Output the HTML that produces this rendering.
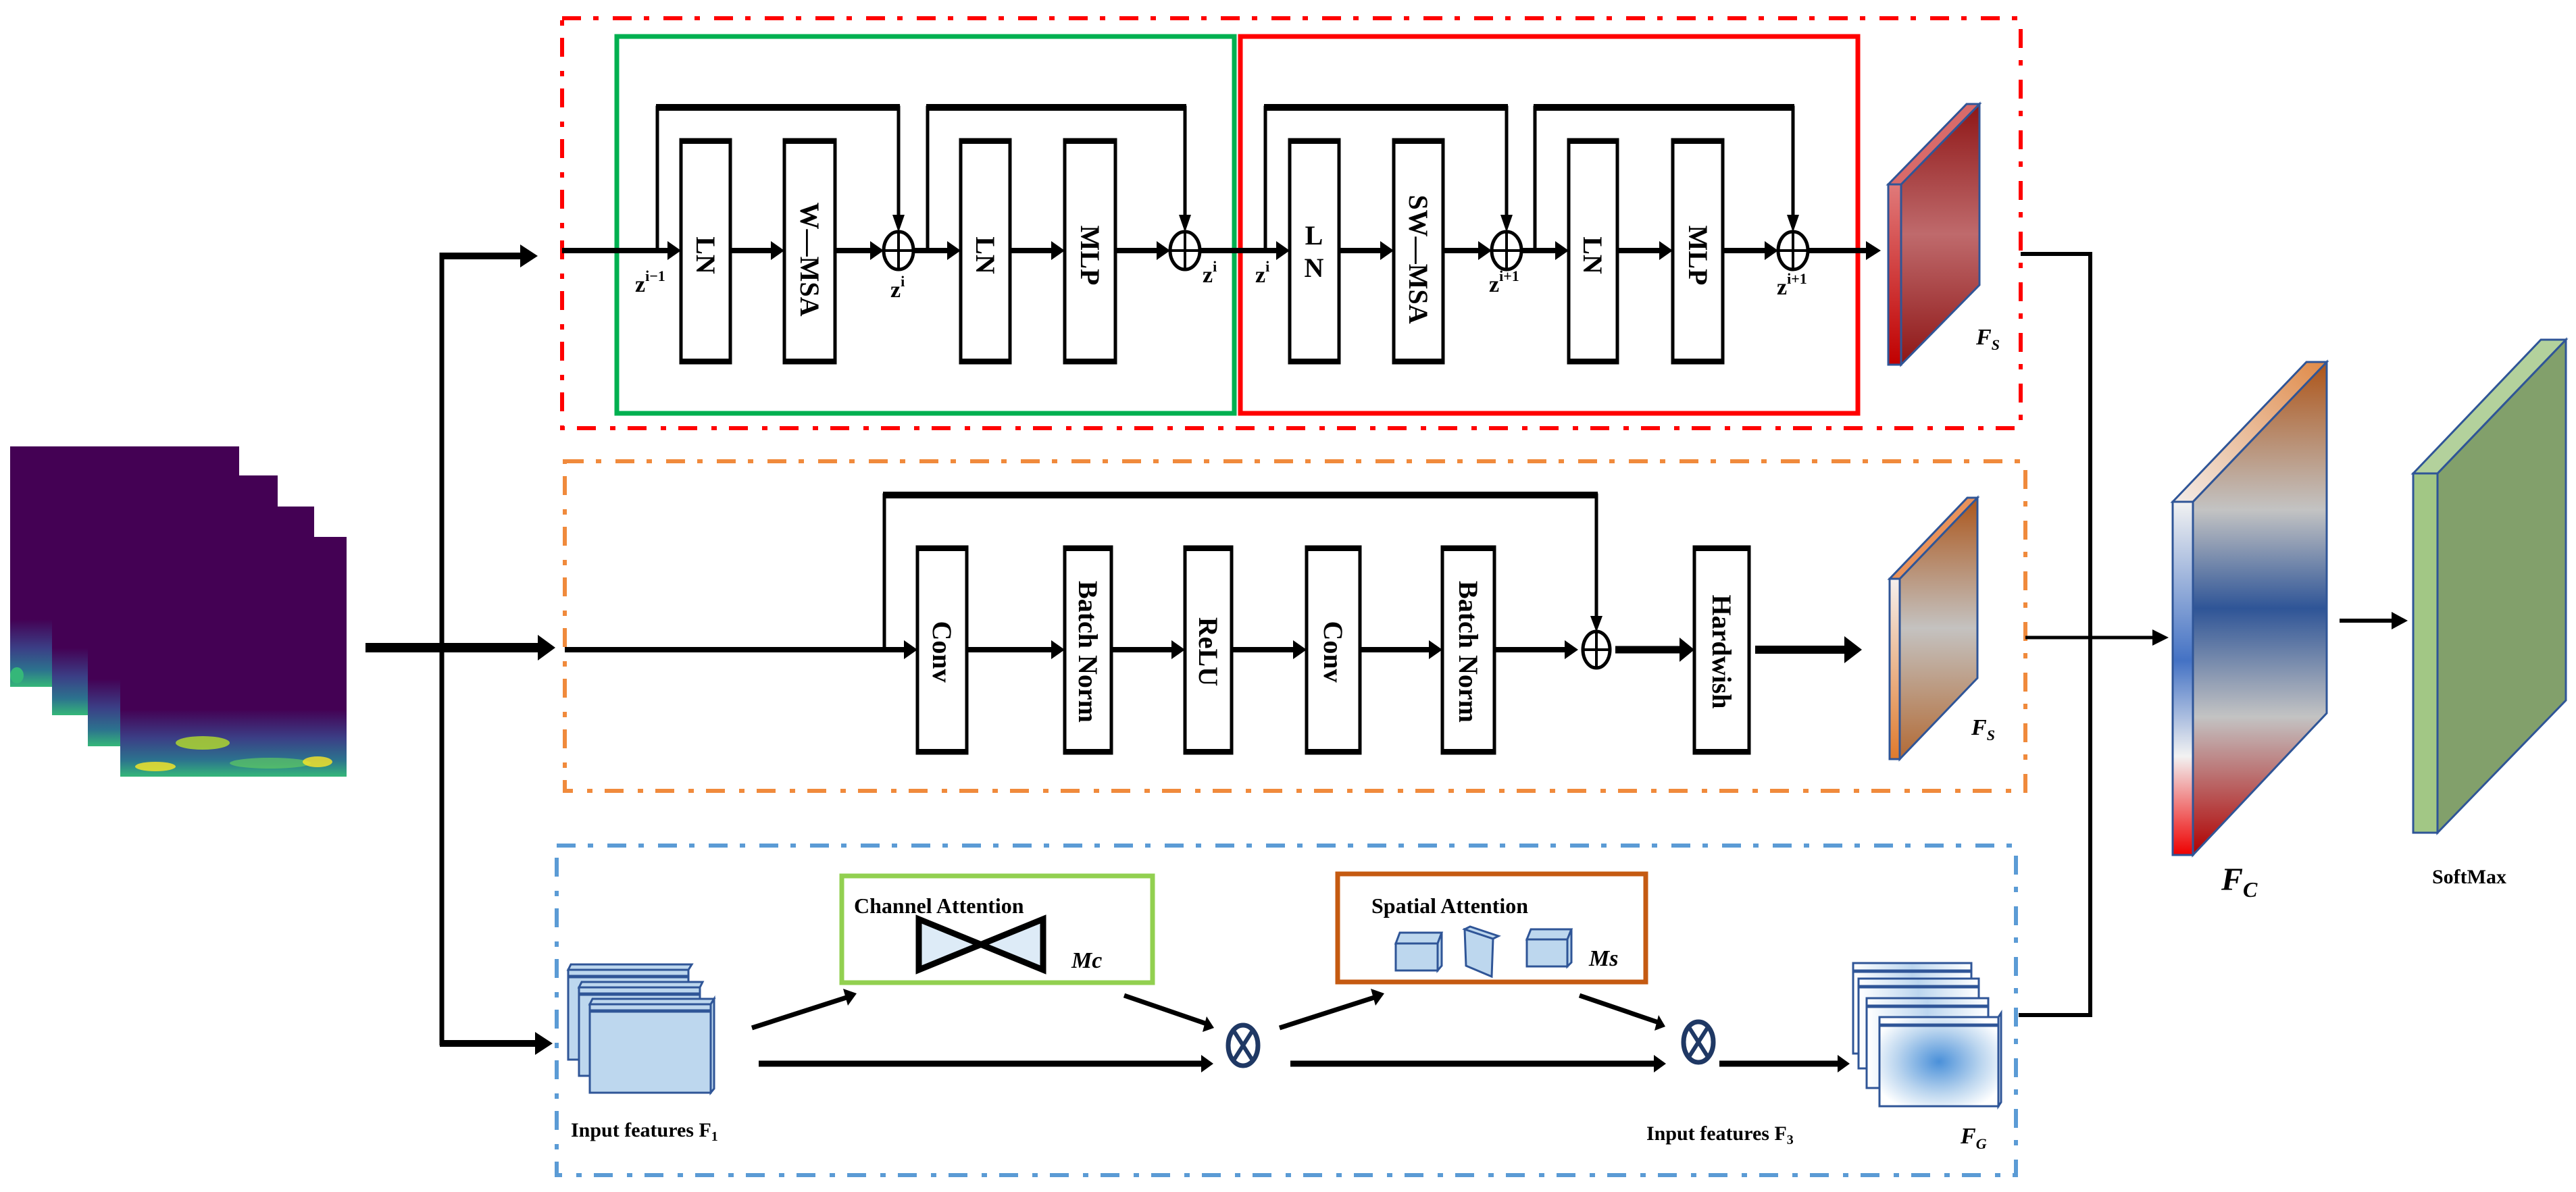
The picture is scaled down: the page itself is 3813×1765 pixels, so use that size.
<!DOCTYPE html>
<html><head><meta charset="utf-8"><style>
html,body{margin:0;padding:0;background:#fff;}
svg{display:block;}
text{font-family:"Liberation Serif",serif;font-weight:bold;}
</style></head><body>
<svg width="3813" height="1765" viewBox="0 0 3813 1765" xmlns="http://www.w3.org/2000/svg">
<defs>
<linearGradient id="spec" x1="0" y1="0" x2="0" y2="1">
<stop offset="0" stop-color="#440154"/><stop offset="0.72" stop-color="#440154"/>
<stop offset="0.84" stop-color="#3b3f86"/><stop offset="0.93" stop-color="#2c728e"/><stop offset="1" stop-color="#35b779"/>
</linearGradient>
<linearGradient id="gRed" x1="0" y1="0" x2="0" y2="1">
<stop offset="0" stop-color="#8e1616"/><stop offset="0.5" stop-color="#bf6a6c"/><stop offset="1" stop-color="#8e1616"/>
</linearGradient>
<linearGradient id="gRedF" x1="0" y1="0" x2="0" y2="1">
<stop offset="0" stop-color="#e07a7a"/><stop offset="1" stop-color="#c00000"/>
</linearGradient>
<linearGradient id="gOr" x1="0" y1="0" x2="0" y2="1">
<stop offset="0" stop-color="#ab561c"/><stop offset="0.5" stop-color="#c4c2c0"/><stop offset="1" stop-color="#b26a35"/>
</linearGradient>
<linearGradient id="gOrF" x1="0" y1="0" x2="0" y2="1">
<stop offset="0" stop-color="#f5f0ee"/><stop offset="1" stop-color="#e07a2c"/>
</linearGradient>
<linearGradient id="gFC" x1="0" y1="0" x2="0" y2="1">
<stop offset="0" stop-color="#ad5418"/><stop offset="0.3" stop-color="#c3c3c3"/><stop offset="0.5" stop-color="#2f5597"/>
<stop offset="0.72" stop-color="#c3c3c3"/><stop offset="1" stop-color="#b00000"/>
</linearGradient>
<linearGradient id="gFCF" x1="0" y1="0" x2="0" y2="1">
<stop offset="0" stop-color="#f2f2f2"/><stop offset="0.45" stop-color="#4472c4"/><stop offset="0.72" stop-color="#f2f2f2"/><stop offset="1" stop-color="#ee0000"/>
</linearGradient>
<linearGradient id="gFCT" x1="1" y1="0" x2="0" y2="1">
<stop offset="0" stop-color="#e08a48"/><stop offset="1" stop-color="#f3ece8"/>
</linearGradient>
<radialGradient id="gFG" cx="0.5" cy="0.5" r="0.6">
<stop offset="0" stop-color="#4a90d9"/><stop offset="0.6" stop-color="#bcd6ef"/><stop offset="1" stop-color="#ffffff"/>
</radialGradient>
<linearGradient id="gFGs" x1="0" y1="0" x2="1" y2="0">
<stop offset="0" stop-color="#ffffff"/><stop offset="0.5" stop-color="#bcd6ef"/><stop offset="1" stop-color="#ffffff"/>
</linearGradient>
</defs>

<!-- Spectrograms -->
<rect x="15" y="661" width="339" height="356" fill="url(#spec)"/>
<rect x="77" y="704" width="334" height="355" fill="url(#spec)"/>
<rect x="130" y="750" width="335" height="355" fill="url(#spec)"/>
<rect x="178" y="795" width="335" height="355" fill="url(#spec)"/>
<ellipse cx="300" cy="1100" rx="40" ry="10" fill="#b5de2b" opacity="0.8"/>
<ellipse cx="400" cy="1130" rx="60" ry="8" fill="#5ec962" opacity="0.7"/>
<ellipse cx="230" cy="1135" rx="30" ry="7" fill="#fde725" opacity="0.8"/>
<ellipse cx="470" cy="1128" rx="22" ry="8" fill="#fde725" opacity="0.8"/>
<ellipse cx="25" cy="1000" rx="10" ry="12" fill="#35b779"/>

<!-- input connectors -->
<line x1="541" y1="959" x2="800" y2="959" stroke="#000" stroke-width="14"/>
<polygon points="796,940 822,959 796,978" fill="#000"/>
<line x1="654" y1="374" x2="654" y2="1548" stroke="#000" stroke-width="7"/>
<line x1="651" y1="379" x2="775" y2="379" stroke="#000" stroke-width="10"/>
<polygon points="770,362 796,379 770,396" fill="#000"/>
<line x1="651" y1="1545" x2="796" y2="1545" stroke="#000" stroke-width="10"/>
<polygon points="792,1528 818,1545 792,1562" fill="#000"/>

<!-- Outer dash-dot boxes -->
<rect x="832" y="27" width="2159" height="607" fill="none" stroke="#ff0000" stroke-width="6" stroke-dasharray="28 18 8 21"/>
<rect x="836" y="683" width="2162" height="488" fill="none" stroke="#f08a3c" stroke-width="6" stroke-dasharray="28 18 8 21"/>
<rect x="824" y="1252" width="2160" height="488" fill="none" stroke="#5b9bd5" stroke-width="6" stroke-dasharray="28 18 8 21"/>

<!-- Green / red blocks -->
<rect x="913" y="54" width="914" height="558" fill="none" stroke="#00b050" stroke-width="7"/>
<rect x="1836" y="54" width="914" height="558" fill="none" stroke="#ff0000" stroke-width="7"/>

<g stroke="#000" fill="#fff" stroke-width="5">
<rect x="1008" y="207" width="73" height="330"/>
<rect x="1161" y="207" width="75" height="330"/>
<rect x="1422" y="207" width="73" height="330"/>
<rect x="1576" y="207" width="75" height="330"/>
<rect x="1909" y="207" width="73" height="330"/>
<rect x="2063" y="207" width="73" height="330"/>
<rect x="2322" y="207" width="72" height="330"/>
<rect x="2476" y="207" width="74" height="330"/>
</g>
<g stroke="#000" stroke-width="8">
<line x1="1006" y1="209" x2="1083" y2="209"/><line x1="1006" y1="535" x2="1083" y2="535"/>
<line x1="1159" y1="209" x2="1238" y2="209"/><line x1="1159" y1="535" x2="1238" y2="535"/>
<line x1="1420" y1="209" x2="1497" y2="209"/><line x1="1420" y1="535" x2="1497" y2="535"/>
<line x1="1574" y1="209" x2="1653" y2="209"/><line x1="1574" y1="535" x2="1653" y2="535"/>
<line x1="1907" y1="209" x2="1984" y2="209"/><line x1="1907" y1="535" x2="1984" y2="535"/>
<line x1="2061" y1="209" x2="2138" y2="209"/><line x1="2061" y1="535" x2="2138" y2="535"/>
<line x1="2320" y1="209" x2="2396" y2="209"/><line x1="2320" y1="535" x2="2396" y2="535"/>
<line x1="2474" y1="209" x2="2552" y2="209"/><line x1="2474" y1="535" x2="2552" y2="535"/>
</g>
<!-- top row labels -->
<g font-size="40" text-anchor="middle">
<text transform="translate(1031,378) rotate(90)">LN</text>
<text transform="translate(1185,384) rotate(90)">W—MSA</text>
<text transform="translate(1445,378) rotate(90)">LN</text>
<text transform="translate(1600,378) rotate(90)">MLP</text>
<text x="1945" y="362" font-weight="normal">L</text>
<text x="1945" y="410" font-weight="normal">N</text>
<text transform="translate(2086,384) rotate(90)">SW—MSA</text>
<text transform="translate(2344,378) rotate(90)">LN</text>
<text transform="translate(2500,378) rotate(90)">MLP</text>
</g>

<!-- top row lines -->
<g stroke="#000" stroke-width="8">
<line x1="832" y1="371" x2="990" y2="371"/>
<line x1="1081" y1="371" x2="1143" y2="371"/>
<line x1="1236" y1="371" x2="1290" y2="371"/>
<line x1="1353" y1="371" x2="1404" y2="371"/>
<line x1="1495" y1="371" x2="1558" y2="371"/>
<line x1="1651" y1="371" x2="1714" y2="371"/>
<line x1="1777" y1="371" x2="1891" y2="371"/>
<line x1="1982" y1="371" x2="2045" y2="371"/>
<line x1="2136" y1="371" x2="2190" y2="371"/>
<line x1="2253" y1="371" x2="2304" y2="371"/>
<line x1="2394" y1="371" x2="2458" y2="371"/>
<line x1="2550" y1="371" x2="2614" y2="371"/>
<line x1="2677" y1="371" x2="2765" y2="371"/>
</g>
<g fill="#000">
<polygon points="988,357 1008,371 988,385"/>
<polygon points="1141,357 1161,371 1141,385"/>
<polygon points="1288,357 1308,371 1288,385"/>
<polygon points="1402,357 1422,371 1402,385"/>
<polygon points="1556,357 1576,371 1556,385"/>
<polygon points="1712,357 1732,371 1712,385"/>
<polygon points="1889,357 1909,371 1889,385"/>
<polygon points="2043,357 2063,371 2043,385"/>
<polygon points="2188,357 2208,371 2188,385"/>
<polygon points="2302,357 2322,371 2302,385"/>
<polygon points="2456,357 2476,371 2456,385"/>
<polygon points="2612,357 2632,371 2612,385"/>
<polygon points="2762,357 2784,371 2762,385"/>
</g>
<g fill="none" stroke="#000" stroke-width="5">
<path d="M973,371 V159 H1330 V322"/>
<path d="M1373,371 V159 H1754 V322"/>
<path d="M1873,371 V159 H2230 V322"/>
<path d="M2272,371 V159 H2654 V322"/>
</g>
<g stroke="#000" stroke-width="10"><line x1="971" y1="159" x2="1332" y2="159"/><line x1="1371" y1="159" x2="1756" y2="159"/><line x1="1871" y1="159" x2="2232" y2="159"/><line x1="2270" y1="159" x2="2656" y2="159"/></g>
<g fill="#000">
<polygon points="1321,318 1330,344 1339,318"/>
<polygon points="1745,318 1754,344 1763,318"/>
<polygon points="2221,318 2230,344 2239,318"/>
<polygon points="2645,318 2654,344 2663,318"/>
</g>
<g fill="#fff" stroke="#000" stroke-width="5">
<ellipse cx="1330" cy="371" rx="22" ry="28"/><ellipse cx="1754" cy="371" rx="22" ry="28"/>
<ellipse cx="2230" cy="371" rx="22" ry="28"/><ellipse cx="2654" cy="371" rx="22" ry="28"/>
</g>
<g stroke="#000" stroke-width="4">
<line x1="1330" y1="343" x2="1330" y2="399"/><line x1="1308" y1="371" x2="1352" y2="371"/>
<line x1="1754" y1="343" x2="1754" y2="399"/><line x1="1732" y1="371" x2="1776" y2="371"/>
<line x1="2230" y1="343" x2="2230" y2="399"/><line x1="2208" y1="371" x2="2252" y2="371"/>
<line x1="2654" y1="343" x2="2654" y2="399"/><line x1="2632" y1="371" x2="2676" y2="371"/>
</g>
<g font-size="34" font-weight="normal">
<text x="940" y="432">z<tspan font-size="22" dy="-16">i−1</tspan></text>
<text x="1318" y="440">z<tspan font-size="22" dy="-16">i</tspan></text>
<text x="1780" y="418">z<tspan font-size="22" dy="-16">i</tspan></text>
<text x="1858" y="418">z<tspan font-size="22" dy="-16">i</tspan></text>
<text x="2204" y="432">z<tspan font-size="22" dy="-16">i+1</tspan></text>
<text x="2630" y="436">z<tspan font-size="22" dy="-16">i+1</tspan></text>
</g>

<!-- FS red slab -->
<polygon points="2814,273 2930,154 2930,422 2814,540" fill="url(#gRed)" stroke="#2f5597" stroke-width="3"/>
<polygon points="2795,273 2911,154 2930,154 2814,273" fill="#d86a6a" stroke="#2f5597" stroke-width="3"/>
<rect x="2795" y="273" width="19" height="267" fill="url(#gRedF)" stroke="#2f5597" stroke-width="3"/>
<text x="2925" y="510" font-size="34" font-style="italic" font-weight="normal">F<tspan font-size="22" dy="8">S</tspan></text>

<!-- Orange row -->
<g stroke="#000" fill="#fff" stroke-width="5">
<rect x="1358" y="810" width="73" height="305"/>
<rect x="1576" y="810" width="69" height="305"/>
<rect x="1754" y="810" width="69" height="305"/>
<rect x="1934" y="810" width="79" height="305"/>
<rect x="2135" y="810" width="77" height="305"/>
<rect x="2508" y="810" width="81" height="305"/>
</g>
<g stroke="#000" stroke-width="8">
<line x1="1356" y1="812" x2="1433" y2="812"/><line x1="1356" y1="1113" x2="1433" y2="1113"/>
<line x1="1574" y1="812" x2="1647" y2="812"/><line x1="1574" y1="1113" x2="1647" y2="1113"/>
<line x1="1752" y1="812" x2="1825" y2="812"/><line x1="1752" y1="1113" x2="1825" y2="1113"/>
<line x1="1932" y1="812" x2="2015" y2="812"/><line x1="1932" y1="1113" x2="2015" y2="1113"/>
<line x1="2133" y1="812" x2="2214" y2="812"/><line x1="2133" y1="1113" x2="2214" y2="1113"/>
<line x1="2506" y1="812" x2="2591" y2="812"/><line x1="2506" y1="1113" x2="2591" y2="1113"/>
</g>
<g font-size="40" text-anchor="middle">
<text transform="translate(1381,965) rotate(90)">Conv</text>
<text transform="translate(1597,965) rotate(90)">Batch Norm</text>
<text transform="translate(1775,965) rotate(90)">ReLU</text>
<text transform="translate(1960,965) rotate(90)">Conv</text>
<text transform="translate(2160,965) rotate(90)">Batch Norm</text>
<text transform="translate(2535,965) rotate(90)">Hardwish</text>
</g>
<g stroke="#000" stroke-width="8">
<line x1="836" y1="962" x2="1340" y2="962"/>
<line x1="1431" y1="962" x2="1558" y2="962"/>
<line x1="1645" y1="962" x2="1736" y2="962"/>
<line x1="1823" y1="962" x2="1916" y2="962"/>
<line x1="2013" y1="962" x2="2117" y2="962"/>
<line x1="2212" y1="962" x2="2318" y2="962"/>
<line x1="2391" y1="962" x2="2488" y2="962" stroke-width="11"/>
<line x1="2598" y1="962" x2="2732" y2="962" stroke-width="12"/>
</g>
<g fill="#000">
<polygon points="1338,948 1358,962 1338,976"/>
<polygon points="1556,948 1576,962 1556,976"/>
<polygon points="1734,948 1754,962 1734,976"/>
<polygon points="1914,948 1934,962 1914,976"/>
<polygon points="2115,948 2135,962 2115,976"/>
<polygon points="2316,948 2336,962 2316,976"/>
<polygon points="2486,944 2508,962 2486,980"/>
<polygon points="2730,942 2756,962 2730,982"/>
</g>
<path d="M1309,962 V733 H2363 V915" fill="none" stroke="#000" stroke-width="5"/>
<line x1="1307" y1="733" x2="2365" y2="733" stroke="#000" stroke-width="10"/>
<polygon points="2354,912 2363,936 2372,912" fill="#000"/>
<ellipse cx="2363" cy="962" rx="20" ry="27" fill="#fff" stroke="#000" stroke-width="5"/>
<line x1="2363" y1="935" x2="2363" y2="989" stroke="#000" stroke-width="4"/>
<line x1="2343" y1="962" x2="2383" y2="962" stroke="#000" stroke-width="4"/>

<!-- FS orange slab -->
<polygon points="2812,857 2927,737 2927,1004 2812,1124" fill="url(#gOr)" stroke="#2f5597" stroke-width="3"/>
<polygon points="2797,857 2912,737 2927,737 2812,857" fill="#e9925a" stroke="#2f5597" stroke-width="3"/>
<rect x="2797" y="857" width="15" height="267" fill="url(#gOrF)" stroke="#2f5597" stroke-width="3"/>
<text x="2918" y="1088" font-size="34" font-style="italic" font-weight="normal">F<tspan font-size="22" dy="8">S</tspan></text>

<!-- Bottom row -->
<rect x="1246" y="1297" width="460" height="158" fill="#fff" stroke="#92d050" stroke-width="7"/>
<text x="1264" y="1352" font-size="32">Channel Attention</text>
<polygon points="1360,1361 1544,1436 1544,1361 1360,1436" fill="#ddebf7" stroke="#000" stroke-width="9"/>
<line x1="1360" y1="1361" x2="1360" y2="1436" stroke="#000" stroke-width="9"/>
<line x1="1544" y1="1361" x2="1544" y2="1436" stroke="#000" stroke-width="9"/>
<text x="1586" y="1433" font-size="34" font-style="italic">Mc</text>

<rect x="1980" y="1294" width="456" height="160" fill="#fff" stroke="#c55a11" stroke-width="7"/>
<text x="2030" y="1352" font-size="32">Spatial Attention</text>
<g fill="#bdd7ee" stroke="#2f5597" stroke-width="3">
<rect x="2066" y="1397" width="62" height="40"/><polygon points="2066,1397 2072,1381 2134,1381 2128,1397"/><polygon points="2128,1397 2134,1381 2134,1430 2128,1437"/>
<polygon points="2168,1376 2210,1390 2208,1446 2170,1430"/><polygon points="2168,1376 2176,1372 2218,1386 2210,1390"/>
<rect x="2260" y="1391" width="60" height="40"/><polygon points="2260,1391 2266,1376 2326,1376 2320,1391"/><polygon points="2320,1391 2326,1376 2326,1425 2320,1431"/>
</g>
<text x="2352" y="1430" font-size="34" font-style="italic">Ms</text>

<!-- F1 stack -->
<g fill="#bdd7ee" stroke="#2f5597" stroke-width="3">
<rect x="841" y="1436" width="178" height="133"/><polygon points="841,1436 845,1428 1024,1428 1019,1436"/><line x1="841" y1="1446" x2="1019" y2="1446" stroke-width="5"/>
<rect x="857" y="1462" width="179" height="131"/><polygon points="857,1462 861,1454 1040,1454 1036,1462"/><line x1="857" y1="1472" x2="1036" y2="1472" stroke-width="5"/>
<rect x="873" y="1487" width="179" height="131"/><polygon points="873,1487 877,1479 1057,1479 1052,1487"/><polygon points="1052,1487 1057,1479 1057,1612 1052,1618"/><line x1="873" y1="1497" x2="1052" y2="1497" stroke-width="5"/>
</g>
<text x="845" y="1683" font-size="30">Input features F<tspan font-size="20" dy="6">1</tspan></text>

<!-- bottom arrows -->
<g stroke="#000" stroke-width="7">
<line x1="1113" y1="1522" x2="1256" y2="1476"/>
<line x1="1664" y1="1474" x2="1786" y2="1516"/>
<line x1="1894" y1="1522" x2="2037" y2="1476"/>
<line x1="2338" y1="1474" x2="2455" y2="1514"/>
<line x1="1123" y1="1575" x2="1780" y2="1575" stroke-width="9"/>
<line x1="1910" y1="1575" x2="2450" y2="1575" stroke-width="9"/>
<line x1="2545" y1="1575" x2="2722" y2="1575" stroke-width="9"/>
</g>
<g fill="#000">
<polygon points="1248,1464 1268,1471 1255,1489"/>
<polygon points="1780,1528 1797,1522 1786,1505"/>
<polygon points="2029,1464 2049,1471 2036,1489"/>
<polygon points="2449,1526 2465,1520 2455,1503"/>
<polygon points="1778,1562 1796,1575 1778,1588"/>
<polygon points="2448,1562 2466,1575 2448,1588"/>
<polygon points="2720,1562 2738,1575 2720,1588"/>
</g>
<g fill="#fff" stroke="#1f3864" stroke-width="7">
<ellipse cx="1840" cy="1548" rx="22" ry="30"/><ellipse cx="2514" cy="1543" rx="22" ry="30"/>
</g>
<g stroke="#1f3864" stroke-width="6">
<line x1="1826" y1="1526" x2="1854" y2="1570"/><line x1="1854" y1="1526" x2="1826" y2="1570"/>
<line x1="2500" y1="1521" x2="2528" y2="1565"/><line x1="2528" y1="1521" x2="2500" y2="1565"/>
</g>

<!-- FG stack -->
<g stroke="#2f5597" stroke-width="3">
<rect x="2743" y="1426" width="175" height="134" fill="url(#gFGs)"/><line x1="2743" y1="1438" x2="2918" y2="1438" stroke-width="5"/>
<rect x="2751" y="1449" width="178" height="133" fill="url(#gFGs)"/><line x1="2751" y1="1461" x2="2929" y2="1461" stroke-width="5"/>
<rect x="2763" y="1478" width="180" height="133" fill="url(#gFGs)"/><line x1="2763" y1="1490" x2="2943" y2="1490" stroke-width="5"/>
<rect x="2782" y="1506" width="176" height="132" fill="url(#gFG)"/><line x1="2782" y1="1518" x2="2958" y2="1518" stroke-width="5"/>
<polygon points="2958,1506 2962,1500 2962,1632 2958,1638" fill="#dfe9f5"/>
</g>
<text x="2437" y="1688" font-size="30">Input features F<tspan font-size="20" dy="6">3</tspan></text>
<text x="2902" y="1693" font-size="34" font-style="italic" font-weight="normal">F<tspan font-size="22" dy="8">G</tspan></text>

<!-- right connectors -->
<path d="M2991,376 H3094 V1503 H2988" fill="none" stroke="#000" stroke-width="6"/>
<line x1="2998" y1="944" x2="3190" y2="944" stroke="#000" stroke-width="5"/>
<polygon points="3186,932 3210,944 3186,956" fill="#000"/>
<line x1="3463" y1="919" x2="3545" y2="919" stroke="#000" stroke-width="6"/>
<polygon points="3540,906 3564,919 3540,932" fill="#000"/>

<!-- FC slab -->
<polygon points="3246,743 3444,536 3444,1056 3246,1266" fill="url(#gFC)" stroke="#2f5597" stroke-width="3"/>
<polygon points="3216,743 3414,536 3444,536 3246,743" fill="url(#gFCT)" stroke="#2f5597" stroke-width="3"/>
<rect x="3216" y="743" width="30" height="523" fill="url(#gFCF)" stroke="#2f5597" stroke-width="3"/>
<text x="3288" y="1318" font-size="48" font-style="italic">F<tspan font-size="32" dy="10">C</tspan></text>

<!-- SoftMax slab -->
<polygon points="3608,701 3798,503 3798,1037 3608,1233" fill="#82a06b" stroke="#2f5597" stroke-width="3"/>
<polygon points="3572,701 3761,503 3798,503 3608,701" fill="#b3d19c" stroke="#2f5597" stroke-width="3"/>
<rect x="3572" y="701" width="36" height="532" fill="#a2c785" stroke="#2f5597" stroke-width="3"/>
<text x="3600" y="1308" font-size="30">SoftMax</text>
</svg>
</body></html>
